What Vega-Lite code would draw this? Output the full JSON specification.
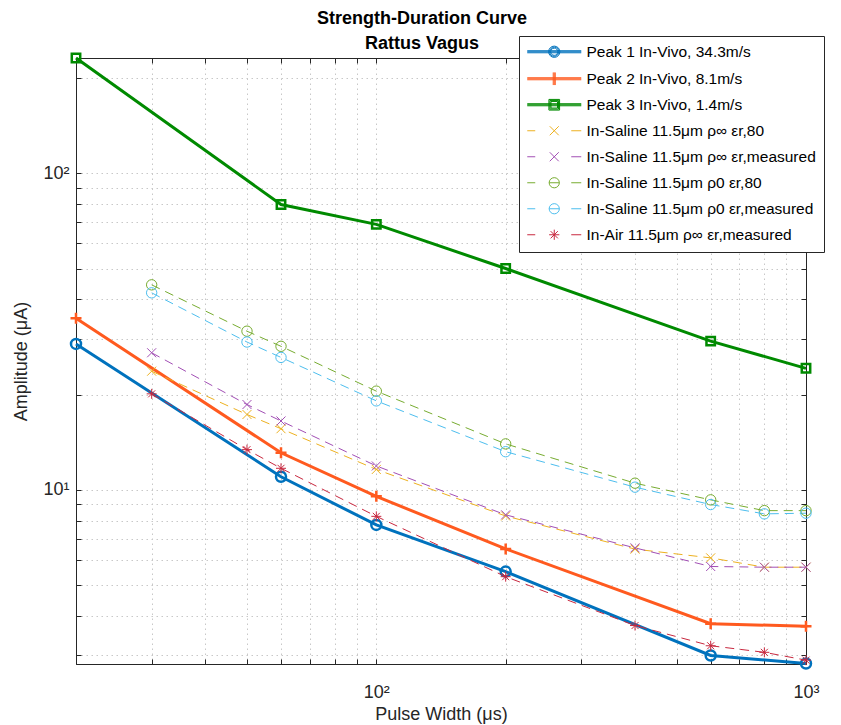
{
  "$schema": "https://vega.github.io/schema/vega-lite/v6.json",
  "width": 730,
  "height": 606,
  "autosize": {"type": "none"},
  "padding": {"left": 76, "top": 58, "right": 35, "bottom": 61},
  "background": "white",
  "config": {
    "font": "Liberation Sans",
    "view": {"stroke": "#262626", "strokeWidth": 1},
    "axis": {
      "domainColor": "#262626",
      "tickColor": "#262626",
      "labelColor": "#262626",
      "titleColor": "#262626",
      "labelFont": "Liberation Sans",
      "titleFont": "Liberation Sans",
      "labelFontSize": 18,
      "titleFontSize": 18,
      "titleFontWeight": "normal",
      "gridColor": "#c8c8c8",
      "gridDash": [1.5, 3.5],
      "gridWidth": 1,
      "tickSize": -5,
      "labelOverlap": false,
      "labelFlush": false,
      "labelBound": false
    }
  },
  "title": {
    "text": ["Strength-Duration Curve", "Rattus Vagus"],
    "font": "Liberation Sans",
    "fontSize": 18,
    "fontWeight": "bold",
    "color": "#000000",
    "anchor": "middle",
    "frame": "group",
    "offset": 6,
    "lineHeight": 25,
    "dx": -19,
    "dy": 23
  },
  "data": {
    "values": [
      {"series": "Peak 1 In-Vivo, 34.3m/s", "pw": 20, "amp": 28.9},
      {"series": "Peak 1 In-Vivo, 34.3m/s", "pw": 60, "amp": 11.0},
      {"series": "Peak 1 In-Vivo, 34.3m/s", "pw": 100, "amp": 7.75},
      {"series": "Peak 1 In-Vivo, 34.3m/s", "pw": 200, "amp": 5.52},
      {"series": "Peak 1 In-Vivo, 34.3m/s", "pw": 600, "amp": 3.0},
      {"series": "Peak 1 In-Vivo, 34.3m/s", "pw": 1000, "amp": 2.83},
      {"series": "Peak 2 In-Vivo, 8.1m/s", "pw": 20, "amp": 34.8},
      {"series": "Peak 2 In-Vivo, 8.1m/s", "pw": 60, "amp": 13.1},
      {"series": "Peak 2 In-Vivo, 8.1m/s", "pw": 100, "amp": 9.54},
      {"series": "Peak 2 In-Vivo, 8.1m/s", "pw": 200, "amp": 6.51},
      {"series": "Peak 2 In-Vivo, 8.1m/s", "pw": 600, "amp": 3.78},
      {"series": "Peak 2 In-Vivo, 8.1m/s", "pw": 1000, "amp": 3.71},
      {"series": "Peak 3 In-Vivo, 1.4m/s", "pw": 20, "amp": 231},
      {"series": "Peak 3 In-Vivo, 1.4m/s", "pw": 60, "amp": 79.6},
      {"series": "Peak 3 In-Vivo, 1.4m/s", "pw": 100, "amp": 68.9},
      {"series": "Peak 3 In-Vivo, 1.4m/s", "pw": 200, "amp": 50.0},
      {"series": "Peak 3 In-Vivo, 1.4m/s", "pw": 600, "amp": 29.5},
      {"series": "Peak 3 In-Vivo, 1.4m/s", "pw": 1000, "amp": 24.2},
      {"series": "In-Saline 11.5μm ρ∞ εr,80", "pw": 30, "amp": 23.7},
      {"series": "In-Saline 11.5μm ρ∞ εr,80", "pw": 50, "amp": 17.3},
      {"series": "In-Saline 11.5μm ρ∞ εr,80", "pw": 60, "amp": 15.6},
      {"series": "In-Saline 11.5μm ρ∞ εr,80", "pw": 100, "amp": 11.6},
      {"series": "In-Saline 11.5μm ρ∞ εr,80", "pw": 200, "amp": 8.27},
      {"series": "In-Saline 11.5μm ρ∞ εr,80", "pw": 400, "amp": 6.5},
      {"series": "In-Saline 11.5μm ρ∞ εr,80", "pw": 600, "amp": 6.1},
      {"series": "In-Saline 11.5μm ρ∞ εr,80", "pw": 800, "amp": 5.7},
      {"series": "In-Saline 11.5μm ρ∞ εr,80", "pw": 1000, "amp": 5.7},
      {"series": "In-Saline 11.5μm ρ∞ εr,measured", "pw": 30, "amp": 27.1},
      {"series": "In-Saline 11.5μm ρ∞ εr,measured", "pw": 50, "amp": 18.6},
      {"series": "In-Saline 11.5μm ρ∞ εr,measured", "pw": 60, "amp": 16.5},
      {"series": "In-Saline 11.5μm ρ∞ εr,measured", "pw": 100, "amp": 11.9},
      {"series": "In-Saline 11.5μm ρ∞ εr,measured", "pw": 200, "amp": 8.34},
      {"series": "In-Saline 11.5μm ρ∞ εr,measured", "pw": 400, "amp": 6.56},
      {"series": "In-Saline 11.5μm ρ∞ εr,measured", "pw": 600, "amp": 5.73},
      {"series": "In-Saline 11.5μm ρ∞ εr,measured", "pw": 800, "amp": 5.7},
      {"series": "In-Saline 11.5μm ρ∞ εr,measured", "pw": 1000, "amp": 5.7},
      {"series": "In-Saline 11.5μm ρ0 εr,80", "pw": 30, "amp": 44.4},
      {"series": "In-Saline 11.5μm ρ0 εr,80", "pw": 50, "amp": 31.7},
      {"series": "In-Saline 11.5μm ρ0 εr,80", "pw": 60, "amp": 28.4},
      {"series": "In-Saline 11.5μm ρ0 εr,80", "pw": 100, "amp": 20.5},
      {"series": "In-Saline 11.5μm ρ0 εr,80", "pw": 200, "amp": 13.97},
      {"series": "In-Saline 11.5μm ρ0 εr,80", "pw": 400, "amp": 10.5},
      {"series": "In-Saline 11.5μm ρ0 εr,80", "pw": 600, "amp": 9.3},
      {"series": "In-Saline 11.5μm ρ0 εr,80", "pw": 800, "amp": 8.6},
      {"series": "In-Saline 11.5μm ρ0 εr,80", "pw": 1000, "amp": 8.6},
      {"series": "In-Saline 11.5μm ρ0 εr,measured", "pw": 30, "amp": 41.9},
      {"series": "In-Saline 11.5μm ρ0 εr,measured", "pw": 50, "amp": 29.3},
      {"series": "In-Saline 11.5μm ρ0 εr,measured", "pw": 60, "amp": 26.2},
      {"series": "In-Saline 11.5μm ρ0 εr,measured", "pw": 100, "amp": 19.1},
      {"series": "In-Saline 11.5μm ρ0 εr,measured", "pw": 200, "amp": 13.2},
      {"series": "In-Saline 11.5μm ρ0 εr,measured", "pw": 400, "amp": 10.2},
      {"series": "In-Saline 11.5μm ρ0 εr,measured", "pw": 600, "amp": 8.99},
      {"series": "In-Saline 11.5μm ρ0 εr,measured", "pw": 800, "amp": 8.4},
      {"series": "In-Saline 11.5μm ρ0 εr,measured", "pw": 1000, "amp": 8.44},
      {"series": "In-Air 11.5μm ρ∞ εr,measured", "pw": 30, "amp": 20.1},
      {"series": "In-Air 11.5μm ρ∞ εr,measured", "pw": 50, "amp": 13.4},
      {"series": "In-Air 11.5μm ρ∞ εr,measured", "pw": 60, "amp": 11.7},
      {"series": "In-Air 11.5μm ρ∞ εr,measured", "pw": 100, "amp": 8.25},
      {"series": "In-Air 11.5μm ρ∞ εr,measured", "pw": 200, "amp": 5.32},
      {"series": "In-Air 11.5μm ρ∞ εr,measured", "pw": 400, "amp": 3.73},
      {"series": "In-Air 11.5μm ρ∞ εr,measured", "pw": 600, "amp": 3.22},
      {"series": "In-Air 11.5μm ρ∞ εr,measured", "pw": 800, "amp": 3.07},
      {"series": "In-Air 11.5μm ρ∞ εr,measured", "pw": 1000, "amp": 2.9}
    ]
  },
  "encoding": {
    "x": {"field": "pw", "type": "quantitative", "scale": {"type": "log", "domain": [20, 1000], "nice": false}, "axis": null},
    "y": {"field": "amp", "type": "quantitative", "scale": {"type": "log", "domain": [2.82, 231], "nice": false}, "axis": null},
    "color": {
      "field": "series", "type": "nominal", "legend": null,
      "scale": {
        "domain": ["Peak 1 In-Vivo, 34.3m/s", "Peak 2 In-Vivo, 8.1m/s", "Peak 3 In-Vivo, 1.4m/s", "In-Saline 11.5μm ρ∞ εr,80", "In-Saline 11.5μm ρ∞ εr,measured", "In-Saline 11.5μm ρ0 εr,80", "In-Saline 11.5μm ρ0 εr,measured", "In-Air 11.5μm ρ∞ εr,measured"],
        "range": ["#0072BD", "#FF5A1F", "#008A00", "#EDB120", "#A24FB5", "#77AC30", "#4DBEEE", "#C8283F"]
      }
    }
  },
  "layer": [
    {
      "mark": {"type": "point", "filled": false, "opacity": 0, "size": 144, "strokeWidth": 1},
      "encoding": {
        "color": {
          "field": "series", "type": "nominal",
          "legend": {
            "title": null, "orient": "none", "legendX": 443, "legendY": -22,
            "padding": 8, "fillColor": "white", "strokeColor": "#262626",
            "symbolSize": 144, "symbolStrokeWidth": 1, "symbolOpacity": 1, "symbolFillColor": "transparent",
            "labelFont": "Liberation Sans", "labelFontSize": 15.5, "labelColor": "#000000",
            "labelOffset": 44, "labelLimit": 500, "rowPadding": 9
          }
        },
        "shape": {
          "field": "series", "type": "nominal",
          "scale": {
            "domain": ["Peak 1 In-Vivo, 34.3m/s", "Peak 2 In-Vivo, 8.1m/s", "Peak 3 In-Vivo, 1.4m/s", "In-Saline 11.5μm ρ∞ εr,80", "In-Saline 11.5μm ρ∞ εr,measured", "In-Saline 11.5μm ρ0 εr,80", "In-Saline 11.5μm ρ0 εr,measured", "In-Air 11.5μm ρ∞ εr,measured"],
            "range": [
              "M-1.25,-0.17H7.75M-1.25,0H7.75M-1.25,0.17H7.75M3.85,0A0.6,0.6,0,1,1,2.65,0A0.6,0.6,0,1,1,3.85,0ZM4.02,0A0.77,0.77,0,1,1,2.48,0A0.77,0.77,0,1,1,4.02,0ZM4.19,0A0.94,0.94,0,1,1,2.31,0A0.94,0.94,0,1,1,4.19,0Z",
              "M-1.25,-0.17H7.75M-1.25,0H7.75M-1.25,0.17H7.75M3.08,-1.05V1.05M3.25,-1.05V1.05M3.42,-1.05V1.05",
              "M-1.25,-0.17H7.75M-1.25,0H7.75M-1.25,0.17H7.75M2.7,-0.55H3.8V0.55H2.7ZM2.53,-0.72H3.97V0.72H2.53ZM2.36,-0.89H4.14V0.89H2.36Z",
              "M-1.25,0H0.083M6.083,0H7.75M2.5,-0.75L4,0.75M2.5,0.75L4,-0.75",
              "M-1.25,0H0.083M6.083,0H7.75M2.5,-0.75L4,0.75M2.5,0.75L4,-0.75",
              "M-1.25,0H0.083M6.083,0H7.75M4.1,0A0.85,0.85,0,1,1,2.4,0A0.85,0.85,0,1,1,4.1,0ZM2.4,0H4.1",
              "M-1.25,0H0.083M6.083,0H7.75M4.1,0A0.85,0.85,0,1,1,2.4,0A0.85,0.85,0,1,1,4.1,0ZM2.4,0H4.1",
              "M-1.25,0H0.083M6.083,0H7.75M2.4,0H4.1M3.25,-0.85V0.85M2.65,-0.6L3.85,0.6M2.65,0.6L3.85,-0.6"
            ]
          },
          "legend": {
            "title": null, "orient": "none", "legendX": 443, "legendY": -22,
            "padding": 8, "fillColor": "white", "strokeColor": "#262626",
            "symbolSize": 144, "symbolStrokeWidth": 1, "symbolOpacity": 1, "symbolFillColor": "transparent",
            "labelFont": "Liberation Sans", "labelFontSize": 15.5, "labelColor": "#000000",
            "labelOffset": 44, "labelLimit": 500, "rowPadding": 9
          }
        }
      }
    },
    {
      "transform": [{"filter": {"field": "series", "oneOf": ["Peak 1 In-Vivo, 34.3m/s", "Peak 2 In-Vivo, 8.1m/s", "Peak 3 In-Vivo, 1.4m/s"]}}],
      "mark": {"type": "line", "clip": false, "strokeWidth": 3},
      "encoding": {
        "x": {
          "field": "pw", "type": "quantitative",
          "scale": {"type": "log", "domain": [20, 1000], "nice": false},
          "axis": {
            "orient": "bottom",
            "values": [20, 30, 40, 50, 60, 70, 80, 90, 100, 200, 300, 400, 500, 600, 700, 800, 900, 1000],
            "labelExpr": "datum.value == 100 ? '10²' : datum.value == 1000 ? '10³' : ''",
            "title": "Pulse Width (μs)",
            "grid": true,
            "labelPadding": 24,
            "titlePadding": 4
          }
        },
        "y": {
          "field": "amp", "type": "quantitative",
          "scale": {"type": "log", "domain": [2.82, 231], "nice": false},
          "axis": {
            "orient": "left",
            "values": [3, 4, 5, 6, 7, 8, 9, 10, 20, 30, 40, 50, 60, 70, 80, 90, 100, 200],
            "labelExpr": "datum.value == 10 ? '10¹' : datum.value == 100 ? '10²' : ''",
            "title": "Amplitude (μA)",
            "grid": true,
            "labelPadding": 12,
            "titlePadding": 12
          }
        }
      }
    },
    {
      "transform": [{"filter": {"field": "series", "equal": "Peak 1 In-Vivo, 34.3m/s"}}],
      "mark": {"type": "point", "filled": false, "size": 400, "opacity": 1, "clip": false, "strokeWidth": 2.5, "shape": "M0.5,0A0.5,0.5,0,1,1,-0.5,0A0.5,0.5,0,1,1,0.5,0Z"},
      "encoding": {
        "x": {
          "field": "pw", "type": "quantitative",
          "scale": {"type": "log", "domain": [20, 1000], "nice": false},
          "axis": {
            "orient": "top",
            "values": [20, 30, 40, 50, 60, 70, 80, 90, 100, 200, 300, 400, 500, 600, 700, 800, 900, 1000],
            "labels": false, "title": null, "grid": false
          }
        },
        "y": {
          "field": "amp", "type": "quantitative",
          "scale": {"type": "log", "domain": [2.82, 231], "nice": false},
          "axis": {
            "orient": "right",
            "values": [3, 4, 5, 6, 7, 8, 9, 10, 20, 30, 40, 50, 60, 70, 80, 90, 100, 200],
            "labels": false, "title": null, "grid": false
          }
        }
      }
    },
    {
      "transform": [{"filter": {"field": "series", "equal": "Peak 2 In-Vivo, 8.1m/s"}}],
      "mark": {"type": "point", "filled": false, "size": 400, "opacity": 1, "clip": false, "strokeWidth": 2.5, "shape": "M-0.55,0H0.55M0,-0.55V0.55"}
    },
    {
      "transform": [{"filter": {"field": "series", "equal": "Peak 3 In-Vivo, 1.4m/s"}}],
      "mark": {"type": "point", "filled": false, "size": 400, "opacity": 1, "clip": false, "strokeWidth": 2.5, "shape": "M-0.42,-0.42H0.42V0.42H-0.42Z"}
    },
    {
      "transform": [{"filter": {"not": {"field": "series", "oneOf": ["Peak 1 In-Vivo, 34.3m/s", "Peak 2 In-Vivo, 8.1m/s", "Peak 3 In-Vivo, 1.4m/s"]}}}],
      "mark": {"type": "line", "strokeDash": [9, 6], "clip": false, "strokeWidth": 1}
    },
    {
      "transform": [{"filter": {"field": "series", "oneOf": ["In-Saline 11.5μm ρ∞ εr,80", "In-Saline 11.5μm ρ∞ εr,measured"]}}],
      "mark": {"type": "point", "filled": false, "size": 400, "opacity": 1, "clip": false, "strokeWidth": 1, "shape": "M-0.45,-0.45L0.45,0.45M-0.45,0.45L0.45,-0.45"}
    },
    {
      "transform": [{"filter": {"field": "series", "oneOf": ["In-Saline 11.5μm ρ0 εr,80", "In-Saline 11.5μm ρ0 εr,measured"]}}],
      "mark": {"type": "point", "filled": false, "size": 400, "opacity": 1, "clip": false, "strokeWidth": 1, "shape": "M0.52,0A0.52,0.52,0,1,1,-0.52,0A0.52,0.52,0,1,1,0.52,0Z"}
    },
    {
      "transform": [{"filter": {"field": "series", "equal": "In-Air 11.5μm ρ∞ εr,measured"}}],
      "mark": {"type": "point", "filled": false, "size": 400, "opacity": 1, "clip": false, "strokeWidth": 1, "shape": "M-0.5,0H0.5M0,-0.5V0.5M-0.35,-0.35L0.35,0.35M-0.35,0.35L0.35,-0.35"}
    }
  ]
}
